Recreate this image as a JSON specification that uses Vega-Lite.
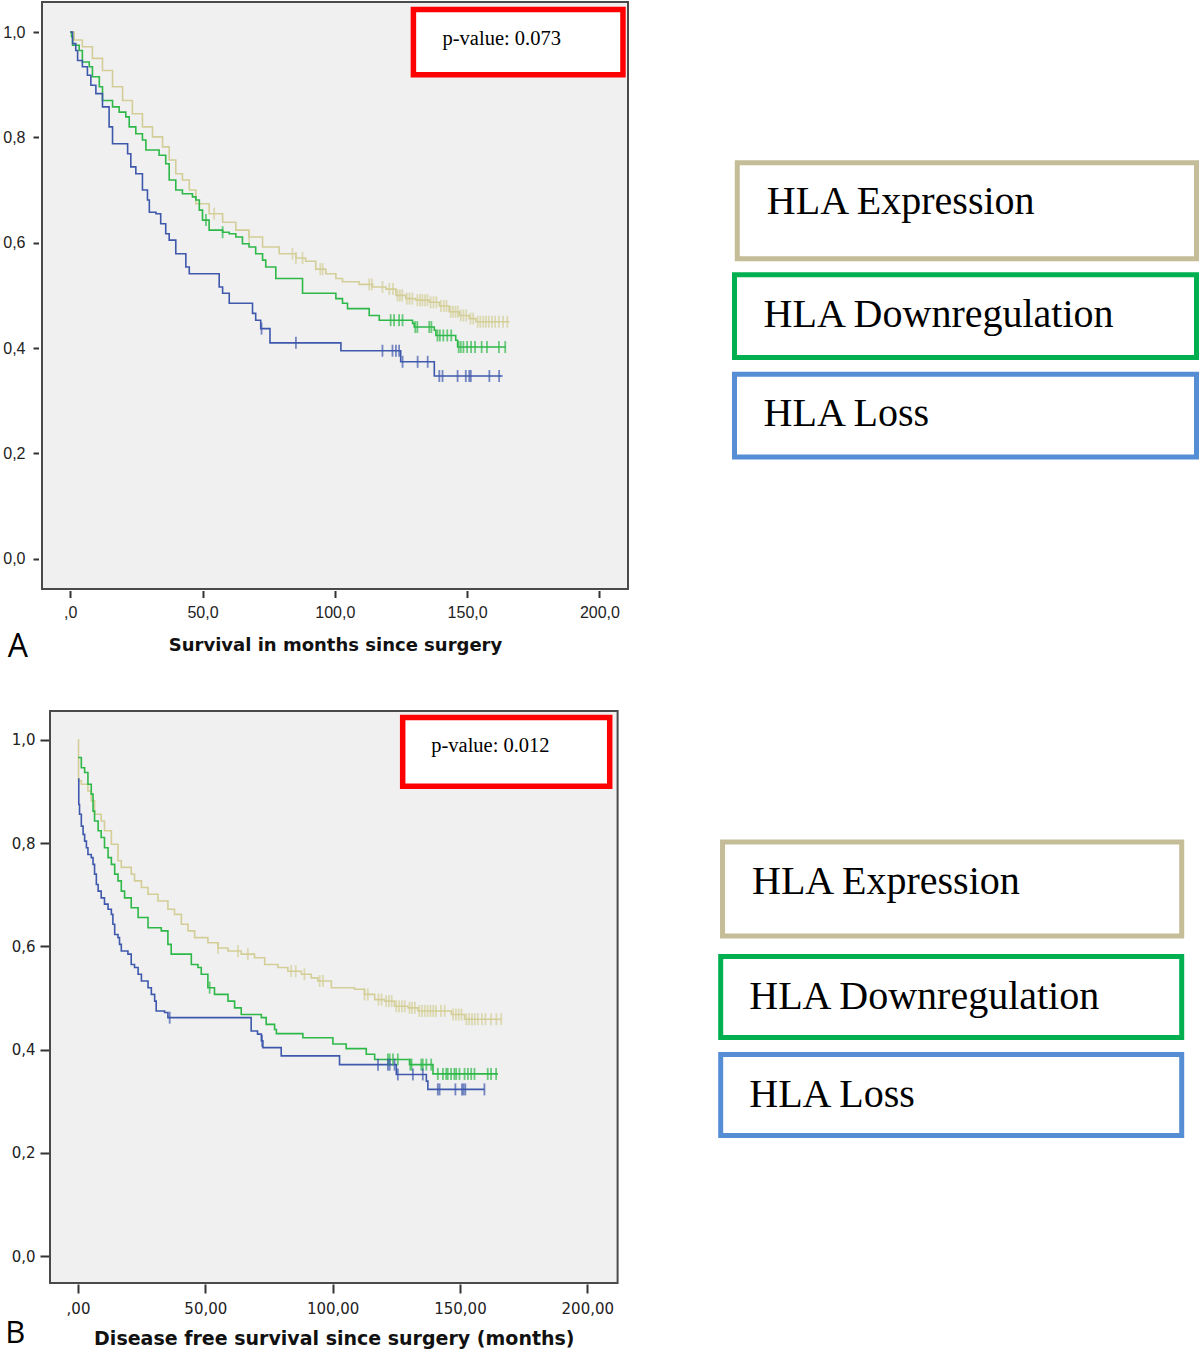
{
  "$schema": "https://vega.github.io/schema/vega-lite/v6.json",
  "background": "white",
  "padding": {"left": 0, "top": 1, "right": 0, "bottom": 0},
  "config": {"view": {"stroke": null}, "axis": {"grid": false, "domain": false}},
  "datasets": {
    "kmA": [
      {"group":"HLA Expression","t":0,"s":1.0},{"group":"HLA Expression","t":1.5,"s":0.985},{"group":"HLA Expression","t":4.6,"s":0.972},{"group":"HLA Expression","t":8.4,"s":0.95},{"group":"HLA Expression","t":12.2,"s":0.927},{"group":"HLA Expression","t":16.0,"s":0.896},{"group":"HLA Expression","t":19.8,"s":0.87},{"group":"HLA Expression","t":23.5,"s":0.845},{"group":"HLA Expression","t":27.3,"s":0.82},{"group":"HLA Expression","t":31.1,"s":0.801},{"group":"HLA Expression","t":34.9,"s":0.782},{"group":"HLA Expression","t":37.4,"s":0.757},{"group":"HLA Expression","t":39.9,"s":0.731},{"group":"HLA Expression","t":42.4,"s":0.719},{"group":"HLA Expression","t":45.0,"s":0.7},{"group":"HLA Expression","t":47.5,"s":0.674},{"group":"HLA Expression","t":52.5,"s":0.655},{"group":"HLA Expression","t":57.6,"s":0.639},{"group":"HLA Expression","t":62.6,"s":0.624},{"group":"HLA Expression","t":67.6,"s":0.611},{"group":"HLA Expression","t":72.7,"s":0.592},{"group":"HLA Expression","t":79.0,"s":0.579},{"group":"HLA Expression","t":85.3,"s":0.571},{"group":"HLA Expression","t":89.0,"s":0.565},{"group":"HLA Expression","t":92.8,"s":0.55},{"group":"HLA Expression","t":96.6,"s":0.541},{"group":"HLA Expression","t":100.4,"s":0.532},{"group":"HLA Expression","t":102.9,"s":0.526},{"group":"HLA Expression","t":109.2,"s":0.521},{"group":"HLA Expression","t":114.3,"s":0.516},{"group":"HLA Expression","t":119.3,"s":0.512},{"group":"HLA Expression","t":123.1,"s":0.5},{"group":"HLA Expression","t":126.8,"s":0.494},{"group":"HLA Expression","t":130.6,"s":0.491},{"group":"HLA Expression","t":135.7,"s":0.487},{"group":"HLA Expression","t":139.5,"s":0.48},{"group":"HLA Expression","t":143.2,"s":0.469},{"group":"HLA Expression","t":147.0,"s":0.462},{"group":"HLA Expression","t":150.8,"s":0.456},{"group":"HLA Expression","t":153.3,"s":0.45},{"group":"HLA Expression","t":166.0,"s":0.45},
      {"group":"HLA Downregulation","t":0,"s":1.0},{"group":"HLA Downregulation","t":0.5,"s":0.991},{"group":"HLA Downregulation","t":0.9,"s":0.975},{"group":"HLA Downregulation","t":3.4,"s":0.965},{"group":"HLA Downregulation","t":4.6,"s":0.943},{"group":"HLA Downregulation","t":7.2,"s":0.934},{"group":"HLA Downregulation","t":8.4,"s":0.915},{"group":"HLA Downregulation","t":11.0,"s":0.896},{"group":"HLA Downregulation","t":12.2,"s":0.87},{"group":"HLA Downregulation","t":16.0,"s":0.858},{"group":"HLA Downregulation","t":18.5,"s":0.848},{"group":"HLA Downregulation","t":21.0,"s":0.839},{"group":"HLA Downregulation","t":22.3,"s":0.82},{"group":"HLA Downregulation","t":24.8,"s":0.807},{"group":"HLA Downregulation","t":27.3,"s":0.795},{"group":"HLA Downregulation","t":28.6,"s":0.776},{"group":"HLA Downregulation","t":33.6,"s":0.766},{"group":"HLA Downregulation","t":36.1,"s":0.75},{"group":"HLA Downregulation","t":37.4,"s":0.719},{"group":"HLA Downregulation","t":39.9,"s":0.7},{"group":"HLA Downregulation","t":42.4,"s":0.693},{"group":"HLA Downregulation","t":46.2,"s":0.687},{"group":"HLA Downregulation","t":47.5,"s":0.681},{"group":"HLA Downregulation","t":48.8,"s":0.662},{"group":"HLA Downregulation","t":50.0,"s":0.643},{"group":"HLA Downregulation","t":52.5,"s":0.624},{"group":"HLA Downregulation","t":57.6,"s":0.62},{"group":"HLA Downregulation","t":60.1,"s":0.617},{"group":"HLA Downregulation","t":62.6,"s":0.611},{"group":"HLA Downregulation","t":65.1,"s":0.598},{"group":"HLA Downregulation","t":67.6,"s":0.592},{"group":"HLA Downregulation","t":70.1,"s":0.579},{"group":"HLA Downregulation","t":72.7,"s":0.567},{"group":"HLA Downregulation","t":73.9,"s":0.554},{"group":"HLA Downregulation","t":77.7,"s":0.532},{"group":"HLA Downregulation","t":87.8,"s":0.504},{"group":"HLA Downregulation","t":100.4,"s":0.494},{"group":"HLA Downregulation","t":102.9,"s":0.485},{"group":"HLA Downregulation","t":104.8,"s":0.475},{"group":"HLA Downregulation","t":113.0,"s":0.462},{"group":"HLA Downregulation","t":116.8,"s":0.453},{"group":"HLA Downregulation","t":129.4,"s":0.447},{"group":"HLA Downregulation","t":130.0,"s":0.44},{"group":"HLA Downregulation","t":137.6,"s":0.434},{"group":"HLA Downregulation","t":138.2,"s":0.424},{"group":"HLA Downregulation","t":145.7,"s":0.415},{"group":"HLA Downregulation","t":146.4,"s":0.402},{"group":"HLA Downregulation","t":164.6,"s":0.402},
      {"group":"HLA Loss","t":0,"s":1.0},{"group":"HLA Loss","t":0.9,"s":0.978},{"group":"HLA Loss","t":2.1,"s":0.965},{"group":"HLA Loss","t":2.8,"s":0.946},{"group":"HLA Loss","t":4.6,"s":0.934},{"group":"HLA Loss","t":6.5,"s":0.918},{"group":"HLA Loss","t":7.8,"s":0.899},{"group":"HLA Loss","t":9.7,"s":0.883},{"group":"HLA Loss","t":12.2,"s":0.858},{"group":"HLA Loss","t":14.7,"s":0.82},{"group":"HLA Loss","t":16.0,"s":0.788},{"group":"HLA Loss","t":21.7,"s":0.769},{"group":"HLA Loss","t":22.9,"s":0.744},{"group":"HLA Loss","t":24.8,"s":0.731},{"group":"HLA Loss","t":27.3,"s":0.7},{"group":"HLA Loss","t":29.2,"s":0.681},{"group":"HLA Loss","t":29.9,"s":0.658},{"group":"HLA Loss","t":32.4,"s":0.655},{"group":"HLA Loss","t":34.2,"s":0.636},{"group":"HLA Loss","t":36.1,"s":0.617},{"group":"HLA Loss","t":37.4,"s":0.605},{"group":"HLA Loss","t":39.9,"s":0.579},{"group":"HLA Loss","t":43.7,"s":0.554},{"group":"HLA Loss","t":45.0,"s":0.541},{"group":"HLA Loss","t":56.3,"s":0.516},{"group":"HLA Loss","t":57.6,"s":0.504},{"group":"HLA Loss","t":60.1,"s":0.485},{"group":"HLA Loss","t":68.9,"s":0.466},{"group":"HLA Loss","t":70.1,"s":0.453},{"group":"HLA Loss","t":72.0,"s":0.437},{"group":"HLA Loss","t":75.5,"s":0.41},{"group":"HLA Loss","t":102.3,"s":0.395},{"group":"HLA Loss","t":124.9,"s":0.374},{"group":"HLA Loss","t":137.6,"s":0.347},{"group":"HLA Loss","t":163.4,"s":0.347}
    ],
    "cenA": [
      {"group":"HLA Expression","t":54.4,"s":0.655},{"group":"HLA Expression","t":67.6,"s":0.611},{"group":"HLA Expression","t":84.0,"s":0.579},{"group":"HLA Expression","t":85.3,"s":0.571},{"group":"HLA Expression","t":87.8,"s":0.571},{"group":"HLA Expression","t":94.5,"s":0.55},{"group":"HLA Expression","t":95.4,"s":0.55},{"group":"HLA Expression","t":113.0,"s":0.521},{"group":"HLA Expression","t":114.0,"s":0.521},{"group":"HLA Expression","t":118.0,"s":0.516},{"group":"HLA Expression","t":120.6,"s":0.512},{"group":"HLA Expression","t":122.0,"s":0.512},{"group":"HLA Expression","t":123.7,"s":0.5},{"group":"HLA Expression","t":124.6,"s":0.5},{"group":"HLA Expression","t":125.5,"s":0.5},{"group":"HLA Expression","t":127.2,"s":0.494},{"group":"HLA Expression","t":128.2,"s":0.494},{"group":"HLA Expression","t":129.3,"s":0.494},{"group":"HLA Expression","t":131.2,"s":0.491},{"group":"HLA Expression","t":132.2,"s":0.491},{"group":"HLA Expression","t":133.1,"s":0.491},{"group":"HLA Expression","t":134.1,"s":0.491},{"group":"HLA Expression","t":135.0,"s":0.491},{"group":"HLA Expression","t":136.2,"s":0.487},{"group":"HLA Expression","t":137.3,"s":0.487},{"group":"HLA Expression","t":138.4,"s":0.487},{"group":"HLA Expression","t":140.1,"s":0.48},{"group":"HLA Expression","t":141.2,"s":0.48},{"group":"HLA Expression","t":142.2,"s":0.48},{"group":"HLA Expression","t":143.8,"s":0.469},{"group":"HLA Expression","t":144.7,"s":0.469},{"group":"HLA Expression","t":145.6,"s":0.469},{"group":"HLA Expression","t":146.5,"s":0.469},{"group":"HLA Expression","t":147.6,"s":0.462},{"group":"HLA Expression","t":148.6,"s":0.462},{"group":"HLA Expression","t":149.7,"s":0.462},{"group":"HLA Expression","t":151.3,"s":0.456},{"group":"HLA Expression","t":152.3,"s":0.456},{"group":"HLA Expression","t":154.0,"s":0.45},{"group":"HLA Expression","t":155.0,"s":0.45},{"group":"HLA Expression","t":156.1,"s":0.45},{"group":"HLA Expression","t":157.1,"s":0.45},{"group":"HLA Expression","t":158.2,"s":0.45},{"group":"HLA Expression","t":159.4,"s":0.45},{"group":"HLA Expression","t":160.6,"s":0.45},{"group":"HLA Expression","t":162.0,"s":0.45},{"group":"HLA Expression","t":163.6,"s":0.45},{"group":"HLA Expression","t":165.2,"s":0.45},
      {"group":"HLA Downregulation","t":51.3,"s":0.643},{"group":"HLA Downregulation","t":57.6,"s":0.62},{"group":"HLA Downregulation","t":121.1,"s":0.453},{"group":"HLA Downregulation","t":122.4,"s":0.453},{"group":"HLA Downregulation","t":124.3,"s":0.453},{"group":"HLA Downregulation","t":125.6,"s":0.453},{"group":"HLA Downregulation","t":130.4,"s":0.44},{"group":"HLA Downregulation","t":131.2,"s":0.44},{"group":"HLA Downregulation","t":135.7,"s":0.44},{"group":"HLA Downregulation","t":136.5,"s":0.44},{"group":"HLA Downregulation","t":138.8,"s":0.424},{"group":"HLA Downregulation","t":139.7,"s":0.424},{"group":"HLA Downregulation","t":141.0,"s":0.424},{"group":"HLA Downregulation","t":142.5,"s":0.424},{"group":"HLA Downregulation","t":144.0,"s":0.424},{"group":"HLA Downregulation","t":146.8,"s":0.402},{"group":"HLA Downregulation","t":147.6,"s":0.402},{"group":"HLA Downregulation","t":148.6,"s":0.402},{"group":"HLA Downregulation","t":150.0,"s":0.402},{"group":"HLA Downregulation","t":151.5,"s":0.402},{"group":"HLA Downregulation","t":153.0,"s":0.402},{"group":"HLA Downregulation","t":155.5,"s":0.402},{"group":"HLA Downregulation","t":157.5,"s":0.402},{"group":"HLA Downregulation","t":162.0,"s":0.402},{"group":"HLA Downregulation","t":164.4,"s":0.402},
      {"group":"HLA Loss","t":72.3,"s":0.437},{"group":"HLA Loss","t":85.3,"s":0.41},{"group":"HLA Loss","t":118.0,"s":0.395},{"group":"HLA Loss","t":121.8,"s":0.395},{"group":"HLA Loss","t":123.1,"s":0.395},{"group":"HLA Loss","t":124.3,"s":0.395},{"group":"HLA Loss","t":125.6,"s":0.374},{"group":"HLA Loss","t":131.3,"s":0.374},{"group":"HLA Loss","t":135.1,"s":0.374},{"group":"HLA Loss","t":139.5,"s":0.347},{"group":"HLA Loss","t":140.7,"s":0.347},{"group":"HLA Loss","t":146.4,"s":0.347},{"group":"HLA Loss","t":149.5,"s":0.347},{"group":"HLA Loss","t":150.8,"s":0.347},{"group":"HLA Loss","t":151.4,"s":0.347},{"group":"HLA Loss","t":158.4,"s":0.347},{"group":"HLA Loss","t":162.1,"s":0.347}
    ],
    "kmB": [
      {"group":"HLA Expression","t":0,"s":1.0},{"group":"HLA Expression","t":0.2,"s":0.921},{"group":"HLA Expression","t":1.3,"s":0.914},{"group":"HLA Expression","t":3.9,"s":0.901},{"group":"HLA Expression","t":5.2,"s":0.882},{"group":"HLA Expression","t":6.5,"s":0.856},{"group":"HLA Expression","t":9.1,"s":0.843},{"group":"HLA Expression","t":10.4,"s":0.824},{"group":"HLA Expression","t":13.1,"s":0.798},{"group":"HLA Expression","t":15.7,"s":0.766},{"group":"HLA Expression","t":17.0,"s":0.753},{"group":"HLA Expression","t":20.9,"s":0.74},{"group":"HLA Expression","t":22.2,"s":0.727},{"group":"HLA Expression","t":24.9,"s":0.714},{"group":"HLA Expression","t":27.5,"s":0.701},{"group":"HLA Expression","t":31.4,"s":0.688},{"group":"HLA Expression","t":35.3,"s":0.672},{"group":"HLA Expression","t":37.9,"s":0.662},{"group":"HLA Expression","t":40.6,"s":0.643},{"group":"HLA Expression","t":43.2,"s":0.63},{"group":"HLA Expression","t":45.8,"s":0.617},{"group":"HLA Expression","t":51.0,"s":0.607},{"group":"HLA Expression","t":55.0,"s":0.597},{"group":"HLA Expression","t":58.9,"s":0.591},{"group":"HLA Expression","t":64.1,"s":0.585},{"group":"HLA Expression","t":69.3,"s":0.578},{"group":"HLA Expression","t":73.3,"s":0.565},{"group":"HLA Expression","t":78.5,"s":0.559},{"group":"HLA Expression","t":82.4,"s":0.552},{"group":"HLA Expression","t":87.7,"s":0.546},{"group":"HLA Expression","t":91.6,"s":0.539},{"group":"HLA Expression","t":94.2,"s":0.533},{"group":"HLA Expression","t":99.5,"s":0.52},{"group":"HLA Expression","t":108.6,"s":0.517},{"group":"HLA Expression","t":112.5,"s":0.507},{"group":"HLA Expression","t":116.5,"s":0.497},{"group":"HLA Expression","t":120.4,"s":0.494},{"group":"HLA Expression","t":124.3,"s":0.484},{"group":"HLA Expression","t":129.6,"s":0.481},{"group":"HLA Expression","t":133.5,"s":0.475},{"group":"HLA Expression","t":146.6,"s":0.468},{"group":"HLA Expression","t":151.8,"s":0.459},{"group":"HLA Expression","t":166.2,"s":0.459},
      {"group":"HLA Downregulation","t":0,"s":0.966},{"group":"HLA Downregulation","t":1.3,"s":0.946},{"group":"HLA Downregulation","t":2.6,"s":0.937},{"group":"HLA Downregulation","t":3.9,"s":0.914},{"group":"HLA Downregulation","t":5.2,"s":0.895},{"group":"HLA Downregulation","t":5.9,"s":0.862},{"group":"HLA Downregulation","t":6.5,"s":0.843},{"group":"HLA Downregulation","t":7.9,"s":0.824},{"group":"HLA Downregulation","t":9.1,"s":0.811},{"group":"HLA Downregulation","t":10.4,"s":0.791},{"group":"HLA Downregulation","t":11.8,"s":0.772},{"group":"HLA Downregulation","t":13.1,"s":0.759},{"group":"HLA Downregulation","t":14.4,"s":0.74},{"group":"HLA Downregulation","t":15.7,"s":0.727},{"group":"HLA Downregulation","t":17.0,"s":0.707},{"group":"HLA Downregulation","t":18.3,"s":0.694},{"group":"HLA Downregulation","t":20.9,"s":0.675},{"group":"HLA Downregulation","t":23.6,"s":0.656},{"group":"HLA Downregulation","t":27.5,"s":0.636},{"group":"HLA Downregulation","t":32.7,"s":0.63},{"group":"HLA Downregulation","t":35.3,"s":0.604},{"group":"HLA Downregulation","t":36.6,"s":0.585},{"group":"HLA Downregulation","t":44.5,"s":0.565},{"group":"HLA Downregulation","t":47.1,"s":0.559},{"group":"HLA Downregulation","t":48.4,"s":0.546},{"group":"HLA Downregulation","t":51.0,"s":0.52},{"group":"HLA Downregulation","t":53.6,"s":0.507},{"group":"HLA Downregulation","t":58.9,"s":0.494},{"group":"HLA Downregulation","t":61.5,"s":0.481},{"group":"HLA Downregulation","t":64.1,"s":0.468},{"group":"HLA Downregulation","t":72.0,"s":0.462},{"group":"HLA Downregulation","t":73.9,"s":0.449},{"group":"HLA Downregulation","t":77.2,"s":0.439},{"group":"HLA Downregulation","t":77.9,"s":0.431},{"group":"HLA Downregulation","t":88.3,"s":0.423},{"group":"HLA Downregulation","t":100.1,"s":0.411},{"group":"HLA Downregulation","t":105.3,"s":0.402},{"group":"HLA Downregulation","t":113.2,"s":0.391},{"group":"HLA Downregulation","t":116.5,"s":0.381},{"group":"HLA Downregulation","t":130.2,"s":0.371},{"group":"HLA Downregulation","t":139.4,"s":0.353},{"group":"HLA Downregulation","t":164.9,"s":0.353},
      {"group":"HLA Loss","t":0,"s":0.924},{"group":"HLA Loss","t":0.3,"s":0.875},{"group":"HLA Loss","t":0.6,"s":0.856},{"group":"HLA Loss","t":1.3,"s":0.833},{"group":"HLA Loss","t":2.0,"s":0.817},{"group":"HLA Loss","t":2.6,"s":0.804},{"group":"HLA Loss","t":3.3,"s":0.791},{"group":"HLA Loss","t":3.9,"s":0.778},{"group":"HLA Loss","t":5.2,"s":0.772},{"group":"HLA Loss","t":5.9,"s":0.759},{"group":"HLA Loss","t":6.5,"s":0.74},{"group":"HLA Loss","t":7.2,"s":0.72},{"group":"HLA Loss","t":7.9,"s":0.707},{"group":"HLA Loss","t":9.1,"s":0.694},{"group":"HLA Loss","t":10.4,"s":0.682},{"group":"HLA Loss","t":11.8,"s":0.672},{"group":"HLA Loss","t":13.1,"s":0.662},{"group":"HLA Loss","t":13.7,"s":0.643},{"group":"HLA Loss","t":14.4,"s":0.623},{"group":"HLA Loss","t":15.7,"s":0.617},{"group":"HLA Loss","t":16.3,"s":0.604},{"group":"HLA Loss","t":17.0,"s":0.591},{"group":"HLA Loss","t":19.6,"s":0.585},{"group":"HLA Loss","t":20.9,"s":0.565},{"group":"HLA Loss","t":22.2,"s":0.559},{"group":"HLA Loss","t":23.6,"s":0.546},{"group":"HLA Loss","t":24.9,"s":0.533},{"group":"HLA Loss","t":27.5,"s":0.52},{"group":"HLA Loss","t":28.8,"s":0.507},{"group":"HLA Loss","t":30.1,"s":0.494},{"group":"HLA Loss","t":30.7,"s":0.475},{"group":"HLA Loss","t":34.0,"s":0.472},{"group":"HLA Loss","t":35.3,"s":0.462},{"group":"HLA Loss","t":68.0,"s":0.436},{"group":"HLA Loss","t":70.5,"s":0.43},{"group":"HLA Loss","t":72.0,"s":0.417},{"group":"HLA Loss","t":72.6,"s":0.404},{"group":"HLA Loss","t":79.8,"s":0.388},{"group":"HLA Loss","t":102.7,"s":0.371},{"group":"HLA Loss","t":125.0,"s":0.352},{"group":"HLA Loss","t":136.8,"s":0.339},{"group":"HLA Loss","t":137.4,"s":0.323},{"group":"HLA Loss","t":159.6,"s":0.323}
    ],
    "cenB": [
      {"group":"HLA Expression","t":55.0,"s":0.597},{"group":"HLA Expression","t":62.8,"s":0.591},{"group":"HLA Expression","t":66.7,"s":0.585},{"group":"HLA Expression","t":83.7,"s":0.552},{"group":"HLA Expression","t":85.5,"s":0.552},{"group":"HLA Expression","t":88.9,"s":0.546},{"group":"HLA Expression","t":94.9,"s":0.533},{"group":"HLA Expression","t":96.2,"s":0.533},{"group":"HLA Expression","t":112.5,"s":0.507},{"group":"HLA Expression","t":113.8,"s":0.507},{"group":"HLA Expression","t":118.0,"s":0.497},{"group":"HLA Expression","t":119.2,"s":0.497},{"group":"HLA Expression","t":121.0,"s":0.494},{"group":"HLA Expression","t":122.1,"s":0.494},{"group":"HLA Expression","t":123.2,"s":0.494},{"group":"HLA Expression","t":125.0,"s":0.484},{"group":"HLA Expression","t":126.1,"s":0.484},{"group":"HLA Expression","t":127.2,"s":0.484},{"group":"HLA Expression","t":128.3,"s":0.484},{"group":"HLA Expression","t":130.2,"s":0.481},{"group":"HLA Expression","t":131.2,"s":0.481},{"group":"HLA Expression","t":132.3,"s":0.481},{"group":"HLA Expression","t":134.0,"s":0.475},{"group":"HLA Expression","t":135.1,"s":0.475},{"group":"HLA Expression","t":136.2,"s":0.475},{"group":"HLA Expression","t":137.3,"s":0.475},{"group":"HLA Expression","t":138.4,"s":0.475},{"group":"HLA Expression","t":139.5,"s":0.475},{"group":"HLA Expression","t":140.6,"s":0.475},{"group":"HLA Expression","t":142.5,"s":0.475},{"group":"HLA Expression","t":144.0,"s":0.475},{"group":"HLA Expression","t":147.3,"s":0.468},{"group":"HLA Expression","t":148.4,"s":0.468},{"group":"HLA Expression","t":149.5,"s":0.468},{"group":"HLA Expression","t":150.6,"s":0.468},{"group":"HLA Expression","t":152.5,"s":0.459},{"group":"HLA Expression","t":153.6,"s":0.459},{"group":"HLA Expression","t":154.7,"s":0.459},{"group":"HLA Expression","t":155.8,"s":0.459},{"group":"HLA Expression","t":157.0,"s":0.459},{"group":"HLA Expression","t":158.6,"s":0.459},{"group":"HLA Expression","t":160.0,"s":0.459},{"group":"HLA Expression","t":162.2,"s":0.459},{"group":"HLA Expression","t":164.3,"s":0.459},{"group":"HLA Expression","t":166.2,"s":0.459},
      {"group":"HLA Downregulation","t":51.7,"s":0.52},{"group":"HLA Downregulation","t":121.7,"s":0.381},{"group":"HLA Downregulation","t":122.4,"s":0.381},{"group":"HLA Downregulation","t":123.7,"s":0.381},{"group":"HLA Downregulation","t":125.6,"s":0.381},{"group":"HLA Downregulation","t":130.5,"s":0.371},{"group":"HLA Downregulation","t":131.0,"s":0.371},{"group":"HLA Downregulation","t":134.8,"s":0.371},{"group":"HLA Downregulation","t":135.4,"s":0.371},{"group":"HLA Downregulation","t":136.8,"s":0.371},{"group":"HLA Downregulation","t":138.7,"s":0.371},{"group":"HLA Downregulation","t":141.3,"s":0.353},{"group":"HLA Downregulation","t":143.3,"s":0.353},{"group":"HLA Downregulation","t":144.6,"s":0.353},{"group":"HLA Downregulation","t":145.2,"s":0.353},{"group":"HLA Downregulation","t":146.5,"s":0.353},{"group":"HLA Downregulation","t":147.8,"s":0.353},{"group":"HLA Downregulation","t":148.5,"s":0.353},{"group":"HLA Downregulation","t":149.8,"s":0.353},{"group":"HLA Downregulation","t":151.8,"s":0.353},{"group":"HLA Downregulation","t":153.1,"s":0.353},{"group":"HLA Downregulation","t":154.4,"s":0.353},{"group":"HLA Downregulation","t":155.7,"s":0.353},{"group":"HLA Downregulation","t":160.9,"s":0.353},{"group":"HLA Downregulation","t":162.2,"s":0.353},{"group":"HLA Downregulation","t":164.2,"s":0.353},
      {"group":"HLA Loss","t":36.0,"s":0.462},{"group":"HLA Loss","t":72.3,"s":0.417},{"group":"HLA Loss","t":117.8,"s":0.371},{"group":"HLA Loss","t":121.7,"s":0.371},{"group":"HLA Loss","t":122.4,"s":0.371},{"group":"HLA Loss","t":124.3,"s":0.371},{"group":"HLA Loss","t":125.6,"s":0.352},{"group":"HLA Loss","t":131.5,"s":0.352},{"group":"HLA Loss","t":135.4,"s":0.352},{"group":"HLA Loss","t":141.3,"s":0.323},{"group":"HLA Loss","t":142.0,"s":0.323},{"group":"HLA Loss","t":148.2,"s":0.323},{"group":"HLA Loss","t":150.8,"s":0.323},{"group":"HLA Loss","t":151.4,"s":0.323},{"group":"HLA Loss","t":152.1,"s":0.323},{"group":"HLA Loss","t":159.6,"s":0.323}
    ],
    "legend": [
      {"label":"HLA Expression"},{"label":"HLA Downregulation"},{"label":"HLA Loss"}
    ]
  },
  "columns": 1,
  "align": "none",
  "spacing": 45,
  "resolve": {"scale": {"x": "independent", "y": "independent", "color": "independent", "stroke": "independent"}},
  "concat": [
    {
      "hconcat": [
        {
          "hconcat": [
            {"data": {"values": []}, "mark": "rect", "width": 0.01, "height": 0.01},
            {
              "width": 586, "height": 587,
              "view": {"fill": "#F0F0F0", "stroke": "#4A4A4A", "strokeWidth": 2},
              "layer": [
                {
                  "data": {"name": "kmA"},
                  "mark": {"type": "line", "interpolate": "step-after", "strokeWidth": 1.6},
                  "encoding": {
                    "x": {"field": "t", "type": "quantitative",
                      "scale": {"domain": [-10.66, 210.8], "nice": false, "zero": false},
                      "axis": {"values": [0, 50, 100, 150, 200],
                        "labelExpr": "datum.value == 0 ? ',0' : replace(format(datum.value, '.1f'), '.', ',')",
                        "labelFont": "Liberation Sans", "labelFontSize": 16, "labelColor": "#222222",
                        "tickColor": "#333333", "tickWidth": 2, "tickSize": 7, "offset": 1.5, "labelPadding": 6.5,
                        "labelFlush": false, "labelOverlap": false, "labelBound": false,
                        "title": "Survival in months since surgery", "titleFont": "DejaVu Sans", "titleFontSize": 18,
                        "titleFontWeight": "bold", "titleColor": "#111111", "titlePadding": 16}},
                    "y": {"field": "s", "type": "quantitative",
                      "scale": {"domain": [-0.0573, 1.057], "nice": false, "zero": false},
                      "axis": {"values": [0, 0.2, 0.4, 0.6, 0.8, 1],
                        "labelExpr": "replace(format(datum.value, '.1f'), '.', ',')",
                        "labelFont": "Liberation Sans", "labelFontSize": 16, "labelColor": "#222222",
                        "tickColor": "#333333", "tickWidth": 2, "tickSize": 5.5, "offset": 3.5, "labelPadding": 8,
                        "minExtent": 35, "labelOverlap": false, "labelBound": false, "title": null}},
                    "color": {"field": "group", "type": "nominal",
                      "scale": {"domain": ["HLA Expression", "HLA Downregulation", "HLA Loss"], "range": ["#D3CE97", "#2EB848", "#3E58AC"]},
                      "legend": null}
                  }
                },
                {
                  "data": {"name": "cenA"},
                  "mark": {"type": "tick", "orient": "vertical", "size": 12, "thickness": 1.8},
                  "encoding": {
                    "x": {"field": "t", "type": "quantitative"},
                    "y": {"field": "s", "type": "quantitative"},
                    "color": {"field": "group", "type": "nominal"}
                  }
                },
                {
                  "data": {"values": [{"note": "p-value: 0.073"}]},
                  "mark": {"type": "rect", "fill": "white", "stroke": "#FF0000", "strokeWidth": 5.5},
                  "encoding": {
                    "x": {"datum": 129.7, "type": "quantitative"}, "x2": {"datum": 208.9},
                    "y": {"datum": 1.043, "type": "quantitative"}, "y2": {"datum": 0.919}
                  }
                },
                {
                  "data": {"values": [{"note": "p-value: 0.073"}]},
                  "mark": {"type": "text", "font": "Liberation Serif", "fontSize": 20.5, "color": "#000000", "align": "left", "baseline": "alphabetic"},
                  "encoding": {
                    "x": {"datum": 140.7, "type": "quantitative"},
                    "y": {"datum": 0.975, "type": "quantitative"},
                    "text": {"field": "note"}
                  }
                },
                {
                  "data": {"values": [{"panel": "A"}]},
                  "mark": {"type": "text", "font": "Open Sans", "fontSize": 32, "color": "#000000", "align": "left", "baseline": "alphabetic", "clip": false},
                  "encoding": {
                    "x": {"datum": -23.6, "type": "quantitative"},
                    "y": {"datum": -0.187, "type": "quantitative"},
                    "text": {"field": "panel"}
                  }
                }
              ]
            }
          ],
          "spacing": 0,
          "resolve": {"scale": {"x": "independent", "y": "independent"}}
        },
        {
          "data": {"name": "legend"},
          "width": 462, "height": 455,
          "view": {"stroke": null},
          "encoding": {
            "y": {"field": "label", "type": "nominal",
              "scale": {"domain": ["HLA Expression", "HLA Downregulation", "HLA Loss"], "paddingInner": 0.169, "paddingOuter": 0.871, "align": 1, "round": false},
              "axis": null}
          },
          "layer": [
            {
              "transform": [{"filter": "datum.label != 'HLA Expression'"}],
              "mark": {"type": "rect", "fill": "white", "strokeWidth": 5},
              "encoding": {
                "x": {"datum": 0, "type": "quantitative", "scale": {"domain": [0, 1], "nice": false, "zero": false}, "axis": null},
                "x2": {"datum": 1},
                "stroke": {"field": "label", "type": "nominal",
                  "scale": {"domain": ["HLA Expression", "HLA Downregulation", "HLA Loss"], "range": ["#C4BD97", "#00B050", "#558ED5"]},
                  "legend": null}
              }
            },
            {
              "transform": [{"filter": "datum.label == 'HLA Expression'"}],
              "mark": {"type": "rect", "fill": "white", "strokeWidth": 5, "height": 96, "yOffset": -6},
              "encoding": {
                "x": {"datum": 0.006, "type": "quantitative"},
                "x2": {"datum": 1},
                "stroke": {"field": "label", "type": "nominal"}
              }
            },
            {
              "transform": [{"filter": "datum.label != 'HLA Expression'"}],
              "mark": {"type": "text", "font": "Liberation Serif", "fontSize": 40, "color": "#000000", "align": "left", "baseline": "middle", "dy": -1.5},
              "encoding": {
                "x": {"datum": 0.063, "type": "quantitative"},
                "text": {"field": "label"}
              }
            },
            {
              "transform": [{"filter": "datum.label == 'HLA Expression'"}],
              "mark": {"type": "text", "font": "Liberation Serif", "fontSize": 40, "color": "#000000", "align": "left", "baseline": "middle", "dy": -14.5},
              "encoding": {
                "x": {"datum": 0.07, "type": "quantitative"},
                "text": {"field": "label"}
              }
            }
          ]
        }
      ],
      "spacing": 102.5,
      "resolve": {"scale": {"x": "independent", "y": "independent", "color": "independent", "stroke": "independent"}}
    },
    {
      "hconcat": [
        {
          "hconcat": [
            {"data": {"values": []}, "mark": "rect", "width": 0.01, "height": 0.01},
            {
              "width": 567.6, "height": 572,
              "view": {"fill": "#F0F0F0", "stroke": "#4A4A4A", "strokeWidth": 2},
              "layer": [
                {
                  "data": {"name": "kmB"},
                  "mark": {"type": "line", "interpolate": "step-after", "strokeWidth": 1.6},
                  "encoding": {
                    "x": {"field": "t", "type": "quantitative",
                      "scale": {"domain": [-11.0, 211.9], "nice": false, "zero": false},
                      "axis": {"values": [0, 50, 100, 150, 200],
                        "labelExpr": "datum.value == 0 ? ',00' : replace(format(datum.value, '.2f'), '.', ',')",
                        "labelFont": "DejaVu Sans", "labelFontSize": 15, "labelColor": "#222222",
                        "tickColor": "#333333", "tickWidth": 2, "tickSize": 9, "offset": 1, "labelPadding": 8,
                        "labelFlush": false, "labelOverlap": false, "labelBound": false,
                        "title": "Disease free survival since surgery (months)", "titleFont": "DejaVu Sans", "titleFontSize": 19,
                        "titleFontWeight": "bold", "titleColor": "#111111", "titlePadding": 13.5}},
                    "y": {"field": "s", "type": "quantitative",
                      "scale": {"domain": [-0.052, 1.056], "nice": false, "zero": false},
                      "axis": {"values": [0, 0.2, 0.4, 0.6, 0.8, 1],
                        "labelExpr": "replace(format(datum.value, '.1f'), '.', ',')",
                        "labelFont": "DejaVu Sans", "labelFontSize": 15, "labelColor": "#222222",
                        "tickColor": "#333333", "tickWidth": 2, "tickSize": 8.5, "offset": 1.5, "labelPadding": 5,
                        "minExtent": 46.2, "labelOverlap": false, "labelBound": false, "title": null}},
                    "color": {"field": "group", "type": "nominal",
                      "scale": {"domain": ["HLA Expression", "HLA Downregulation", "HLA Loss"], "range": ["#D3CE97", "#2EB848", "#3E58AC"]},
                      "legend": null}
                  }
                },
                {
                  "data": {"name": "cenB"},
                  "mark": {"type": "tick", "orient": "vertical", "size": 12, "thickness": 1.8},
                  "encoding": {
                    "x": {"field": "t", "type": "quantitative"},
                    "y": {"field": "s", "type": "quantitative"},
                    "color": {"field": "group", "type": "nominal"}
                  }
                },
                {
                  "data": {"values": [{"note": "p-value: 0.012"}]},
                  "mark": {"type": "rect", "fill": "white", "stroke": "#FF0000", "strokeWidth": 5.5},
                  "encoding": {
                    "x": {"datum": 127.5, "type": "quantitative"}, "x2": {"datum": 208.8},
                    "y": {"datum": 1.0436, "type": "quantitative"}, "y2": {"datum": 0.91}
                  }
                },
                {
                  "data": {"values": [{"note": "p-value: 0.012"}]},
                  "mark": {"type": "text", "font": "Liberation Serif", "fontSize": 20.5, "color": "#000000", "align": "left", "baseline": "alphabetic"},
                  "encoding": {
                    "x": {"datum": 138.7, "type": "quantitative"},
                    "y": {"datum": 0.977, "type": "quantitative"},
                    "text": {"field": "note"}
                  }
                },
                {
                  "data": {"values": [{"panel": "B"}]},
                  "mark": {"type": "text", "font": "Open Sans", "fontSize": 31, "color": "#000000", "align": "left", "baseline": "alphabetic", "clip": false},
                  "encoding": {
                    "x": {"datum": -28.6, "type": "quantitative"},
                    "y": {"datum": -0.169, "type": "quantitative"},
                    "text": {"field": "panel"}
                  }
                }
              ]
            }
          ],
          "spacing": 0,
          "resolve": {"scale": {"x": "independent", "y": "independent"}}
        },
        {
          "data": {"name": "legend"},
          "width": 461, "height": 424.5,
          "view": {"stroke": null},
          "encoding": {
            "y": {"field": "label", "type": "nominal",
              "scale": {"domain": ["HLA Expression", "HLA Downregulation", "HLA Loss"], "paddingInner": 0.1735, "paddingOuter": 0.753, "align": 1, "round": false},
              "axis": null}
          },
          "layer": [
            {
              "transform": [{"filter": "datum.label != 'HLA Expression'"}],
              "mark": {"type": "rect", "fill": "white", "strokeWidth": 5},
              "encoding": {
                "x": {"datum": 0, "type": "quantitative", "scale": {"domain": [0, 1], "nice": false, "zero": false}, "axis": null},
                "x2": {"datum": 1},
                "stroke": {"field": "label", "type": "nominal",
                  "scale": {"domain": ["HLA Expression", "HLA Downregulation", "HLA Loss"], "range": ["#C4BD97", "#00B050", "#558ED5"]},
                  "legend": null}
              }
            },
            {
              "transform": [{"filter": "datum.label == 'HLA Expression'"}],
              "mark": {"type": "rect", "fill": "white", "strokeWidth": 5, "height": 94, "yOffset": -10},
              "encoding": {
                "x": {"datum": 0.004, "type": "quantitative"},
                "x2": {"datum": 1},
                "stroke": {"field": "label", "type": "nominal"}
              }
            },
            {
              "transform": [{"filter": "datum.label != 'HLA Expression'"}],
              "mark": {"type": "text", "font": "Liberation Serif", "fontSize": 40, "color": "#000000", "align": "left", "baseline": "middle", "dy": 0},
              "encoding": {
                "x": {"datum": 0.062, "type": "quantitative"},
                "text": {"field": "label"}
              }
            },
            {
              "transform": [{"filter": "datum.label == 'HLA Expression'"}],
              "mark": {"type": "text", "font": "Liberation Serif", "fontSize": 40, "color": "#000000", "align": "left", "baseline": "middle", "dy": -17},
              "encoding": {
                "x": {"datum": 0.068, "type": "quantitative"},
                "text": {"field": "label"}
              }
            }
          ]
        }
      ],
      "spacing": 98.7,
      "resolve": {"scale": {"x": "independent", "y": "independent", "color": "independent", "stroke": "independent"}}
    }
  ]
}
